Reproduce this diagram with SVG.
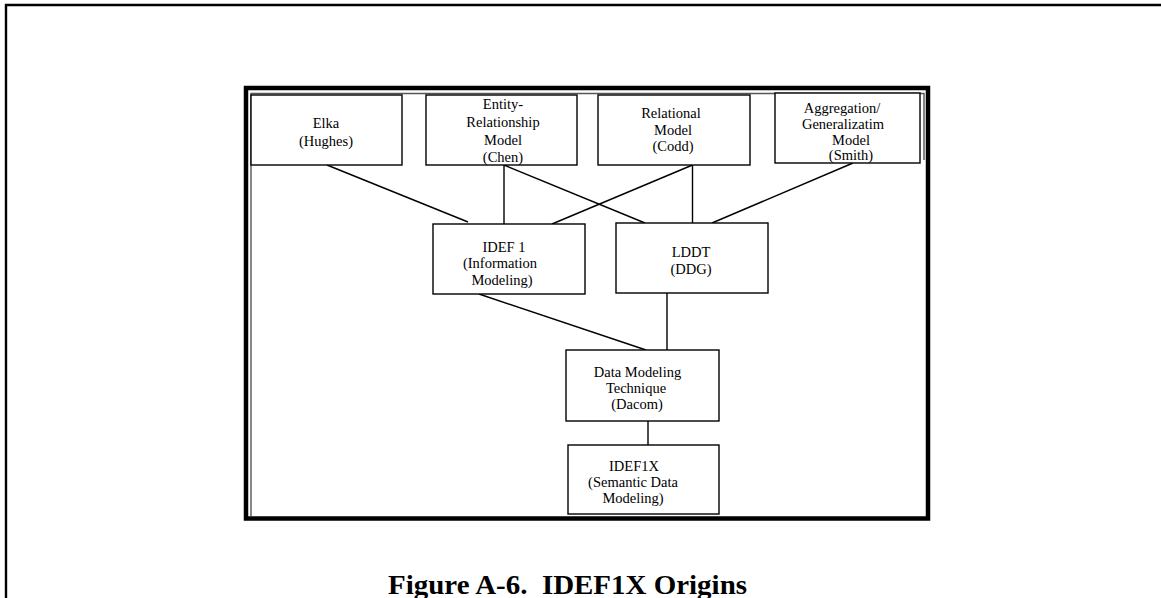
<svg xmlns="http://www.w3.org/2000/svg" width="1161" height="598" viewBox="0 0 1161 598">
<style>
.box{fill:#fff;stroke:#000;stroke-width:1.4}
.t{font-family:"Liberation Serif","Times New Roman",serif;font-size:14.5px;fill:#000;text-anchor:middle}
.c{stroke:#000;stroke-width:1.4;fill:none}
.cap{font-family:"Liberation Serif","Times New Roman",serif;font-size:28px;font-weight:bold;fill:#000;text-anchor:middle}
</style>
<rect x="0" y="0" width="1161" height="598" fill="#fff"/>
<path d="M6,598 V5 H1161" fill="none" stroke="#000" stroke-width="2.4"/>
<rect x="246" y="88" width="682" height="430.5" fill="none" stroke="#000" stroke-width="4.5"/>
<path d="M251,516 V93.5 H924 V160" fill="none" stroke="#555" stroke-width="1.4"/>
<g id="connectors">
<line class="c" x1="327" y1="165" x2="468" y2="222"/>
<line class="c" x1="504" y1="165" x2="504" y2="224"/>
<line class="c" x1="504" y1="165" x2="645" y2="223"/>
<line class="c" x1="692.5" y1="165" x2="552" y2="224"/>
<line class="c" x1="692.5" y1="165" x2="692.5" y2="223"/>
<line class="c" x1="853" y1="163" x2="712" y2="223"/>
<line class="c" x1="479" y1="294" x2="646" y2="350"/>
<line class="c" x1="667" y1="293" x2="667" y2="350"/>
<line class="c" x1="648" y1="421" x2="648" y2="445"/>
</g>
<g id="elka">
<rect class="box" x="251" y="95" width="151" height="70"/>
<text class="t" x="326" y="128">Elka</text>
<text class="t" x="326" y="146">(Hughes)</text>
</g>
<g id="er">
<rect class="box" x="426" y="95" width="151" height="70"/>
<text class="t" x="503" y="109">Entity-</text>
<text class="t" x="503" y="127">Relationship</text>
<text class="t" x="503" y="145">Model</text>
<text class="t" x="503" y="162">(Chen)</text>
</g>
<g id="relational">
<rect class="box" x="598" y="95" width="152" height="70"/>
<text class="t" x="671" y="118">Relational</text>
<text class="t" x="673" y="135">Model</text>
<text class="t" x="673" y="151">(Codd)</text>
</g>
<g id="aggregation">
<rect class="box" x="775" y="93" width="145" height="70"/>
<text class="t" x="842" y="113">Aggregation/</text>
<text class="t" x="843" y="129">Generalizatim</text>
<text class="t" x="851" y="145">Model</text>
<text class="t" x="851" y="160">(Smith)</text>
</g>
<g id="idef1">
<rect class="box" x="433" y="224" width="152" height="70"/>
<text class="t" x="504" y="252">IDEF 1</text>
<text class="t" x="500" y="268">(Information</text>
<text class="t" x="502" y="285">Modeling)</text>
</g>
<g id="lddt">
<rect class="box" x="616" y="223" width="152" height="70"/>
<text class="t" x="691" y="257">LDDT</text>
<text class="t" x="691" y="274">(DDG)</text>
</g>
<g id="dacom">
<rect class="box" x="566" y="350" width="153" height="71"/>
<text class="t" x="637.5" y="377">Data Modeling</text>
<text class="t" x="636" y="393">Technique</text>
<text class="t" x="637" y="409">(Dacom)</text>
</g>
<g id="idef1x">
<rect class="box" x="568" y="445" width="151" height="69"/>
<text class="t" x="634" y="471">IDEF1X</text>
<text class="t" x="633" y="487">(Semantic Data</text>
<text class="t" x="633" y="503">Modeling)</text>
</g>
<text class="cap" x="567.5" y="594" textLength="359" lengthAdjust="spacingAndGlyphs" xml:space="preserve">Figure A-6.  IDEF1X Origins</text>
</svg>
